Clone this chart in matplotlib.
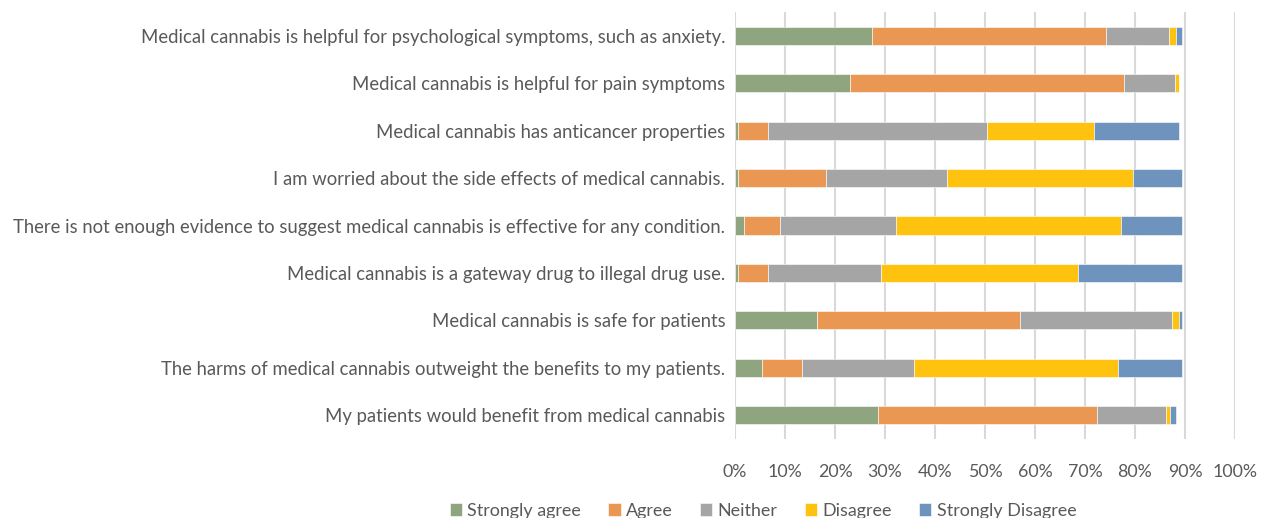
import numpy as np
import matplotlib.pyplot as plt

statements = [
    "Medical cannabis is helpful for psychological symptoms, such as anxiety.",
    "Medical cannabis is helpful for pain symptoms",
    "Medical cannabis has anticancer properties",
    "I am worried about the side effects of medical cannabis.",
    "There is not enough evidence to suggest medical cannabis is effective for any condition.",
    "Medical cannabis is a gateway drug to illegal drug use.",
    "Medical cannabis is safe for patients",
    "The harms of medical cannabis outweight the benefits to my patients.",
    "My patients would benefit from medical cannabis",
]

strongly_agree = [27.3, 23.0, 0.5, 0.5, 1.7, 0.5, 16.4, 5.4, 28.5]
agree = [46.8, 54.7, 6.1, 17.7, 7.3, 6.1, 40.6, 7.9, 43.8]
neither = [12.7, 10.3, 43.8, 24.2, 23.1, 22.5, 30.4, 22.5, 13.9]
disagree = [1.3, 0.7, 21.3, 37.2, 45.0, 39.5, 1.3, 40.7, 0.7]
strongly_disagree = [1.2, 0.0, 17.0, 9.7, 12.2, 20.7, 0.6, 12.8, 1.2]

series_names = ["Strongly agree", "Agree", "Neither", "Disagree", "Strongly Disagree"]
colors = ["#8FA57F", "#E99752", "#A5A5A5", "#FFC20F", "#6E94BE"]

plt.rcParams['font.family'] = ['Lato', 'DejaVu Sans']
text_color = "#595959"

fig = plt.figure(figsize=(12.64, 5.18), dpi=100)
ax = fig.add_axes([735 / 1264, 1 - 439 / 518, 500 / 1264, 427 / 518])

y = np.arange(len(statements))
left = np.zeros(len(statements))
for name, vals, c in zip(series_names,
                         [strongly_agree, agree, neither, disagree, strongly_disagree],
                         colors):
    vals = np.array(vals) / 100
    ax.barh(y, vals, left=left, height=0.38, color=c, label=name,
            edgecolor="white", linewidth=0.4, zorder=3)
    left += vals

ax.set_ylim(len(statements) - 0.5, -0.5)
ax.set_xlim(0, 1)
ax.set_xticks(np.arange(0, 1.01, 0.1))
ax.set_xticklabels([f"{int(round(v * 100))}%" for v in np.arange(0, 1.01, 0.1)])
ax.set_yticks(y)
ax.set_yticklabels(statements)
ax.tick_params(axis='both', length=0, colors=text_color)
ax.tick_params(axis='x', pad=18, labelsize=12.8)
ax.tick_params(axis='y', pad=7, labelsize=13.35)
ax.grid(axis='x', color="#D9D9D9", linewidth=1.5, zorder=0)
for s in ax.spines.values():
    s.set_visible(False)

handles, labels = ax.get_legend_handles_labels()
fig.legend(handles, labels, loc='center', bbox_to_anchor=(763 / 1264, 1 - 511 / 518),
           ncol=5, frameon=False, fontsize=12.9, labelcolor=text_color,
           handlelength=0.7, handleheight=0.7, handletextpad=0.3, columnspacing=1.5)

fig.savefig("out.png", dpi=100)
